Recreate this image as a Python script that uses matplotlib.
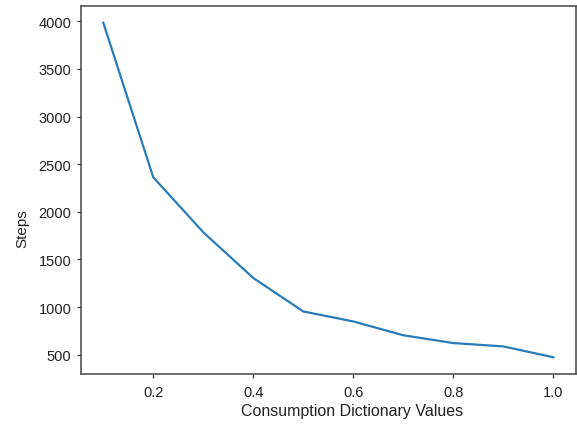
import matplotlib
matplotlib.use("Agg")
import matplotlib.pyplot as plt

plt.rcParams['font.family'] = ['Liberation Sans', 'DejaVu Sans']

consumption_values = [0.1, 0.2, 0.3, 0.4, 0.5, 0.6, 0.7, 0.8, 0.9, 1.0]
steps = [3985, 2362, 1785, 1305, 954, 849, 704, 622, 587, 473]

fig = plt.figure(figsize=(5.77, 4.27), dpi=100)
ax = fig.add_axes([0.140, 0.1218, 0.858, 0.8618])
ax.plot(consumption_values, steps, color="#2a7bba", linewidth=1.6)
ax.set_xticks([0.2, 0.4, 0.6, 0.8, 1.0])
ax.set_yticks([500, 1000, 1500, 2000, 2500, 3000, 3500, 4000])
ax.tick_params(labelsize=10.5, width=0.9, length=3.2, colors="#333333", labelcolor="#222222")
ax.tick_params(axis="x", pad=4.8)
ax.set_xlabel("Consumption Dictionary Values", fontsize=11.5, color="#222222")
ax.set_ylabel("Steps", fontsize=11, color="#222222")
ax.xaxis.set_label_coords(0.547, -0.08)
ax.yaxis.set_label_coords(-0.103, 0.397)
for s in ax.spines.values():
    s.set_linewidth(1.1)
    s.set_color("#444444")
fig.savefig("out.png", dpi=100)
